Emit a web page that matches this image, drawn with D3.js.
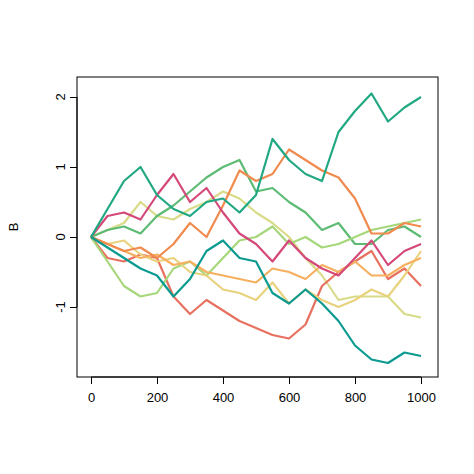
<!DOCTYPE html>
<html>
<head>
<meta charset="UTF-8">
<script src="https://cdnjs.cloudflare.com/ajax/libs/d3/7.8.5/d3.min.js"></script>
<style>
  body { margin: 0; background: #fff; }
  text { font-family: "Liberation Sans", Arial, sans-serif; }
</style>
</head>
<body>
<div id="chart"></div>
<script>
// time steps sampled every 50
const steps = d3.range(0, 1001, 50);
const xTicks = [0, 200, 400, 600, 800, 1000];
const yTicks = [-1, 0, 1, 2];

const seriesColors = ['#d8dc88', '#e8705e', '#5dbb74', '#a6d77a', '#e8d27e',
                      '#f6b060', '#f08a4e', '#d4487a', '#0a9a90', '#21a883'];

const s10 = [0,0.1,0.2,0.5,0.3,0.25,0.4,0.5,0.65,0.55,0.35,0.2,0.0,-0.3,-0.55,-0.9,-0.85,-0.85,-0.85,-1.1,-1.15];
const s9  = [0,-0.3,-0.35,-0.25,-0.3,-0.85,-1.1,-0.9,-1.05,-1.2,-1.3,-1.4,-1.45,-1.25,-0.7,-0.5,-0.35,-0.2,-0.6,-0.45,-0.7];
const s8  = [0,0.1,0.15,0.05,0.3,0.45,0.65,0.85,1.0,1.1,0.65,0.7,0.5,0.35,0.1,0.2,-0.1,-0.1,0.1,0.15,0.0];
const s7  = [0,-0.35,-0.7,-0.85,-0.8,-0.45,-0.35,-0.55,-0.3,-0.05,0.0,0.15,-0.1,0.0,-0.15,-0.1,0.0,0.1,0.15,0.2,0.25];
const s6  = [0,-0.1,-0.05,-0.25,-0.35,-0.3,-0.5,-0.55,-0.75,-0.8,-0.9,-0.65,-0.95,-0.75,-0.9,-1.0,-0.9,-0.75,-0.85,-0.55,-0.2];
const s5  = [0,-0.1,-0.2,-0.3,-0.25,-0.4,-0.35,-0.5,-0.55,-0.6,-0.65,-0.45,-0.5,-0.6,-0.4,-0.5,-0.35,-0.55,-0.55,-0.4,-0.3];
const s4  = [0,-0.1,-0.2,-0.15,-0.3,-0.1,0.2,0.0,0.45,0.95,0.8,0.9,1.25,1.1,0.95,0.85,0.55,0.05,0.05,0.2,0.15];
const s3  = [0,0.3,0.35,0.25,0.6,0.9,0.5,0.7,0.35,0.05,-0.1,-0.35,-0.05,-0.3,-0.45,-0.55,-0.3,-0.05,-0.4,-0.2,-0.1];
const s2  = [0,-0.15,-0.3,-0.45,-0.55,-0.85,-0.6,-0.2,-0.05,-0.3,-0.35,-0.8,-0.95,-0.75,-0.95,-1.2,-1.55,-1.75,-1.8,-1.65,-1.7];
const s1  = [0,0.4,0.8,1.0,0.6,0.4,0.3,0.5,0.55,0.35,0.6,1.4,1.1,0.9,0.8,1.5,1.8,2.05,1.65,1.85,2.0];

const allSeries = [s10, s9, s8, s7, s6, s5, s4, s3, s2, s1];

const width = 474, height = 474;
const box = {left: 77, right: 438, top: 77, bottom: 377};

const svg = d3.select('#chart').append('svg')
    .attr('width', width).attr('height', height);

const x = d3.scaleLinear().domain([0, 1000]).range([91, 421]);
const y = d3.scaleLinear().domain([0, 2]).range([237, 97]);

const line = d3.line()
    .x((d, i) => x(steps[i]))
    .y(d => y(d));

svg.selectAll('path.series')
    .data(allSeries)
    .enter()
    .append('path')
    .attr('class', 'series')
    .attr('d', line)
    .attr('fill', 'none')
    .attr('stroke', (d, i) => seriesColors[i])
    .attr('stroke-width', 2.2)
    .attr('stroke-linejoin', 'round');

svg.append('rect')
    .attr('x', box.left).attr('y', box.top)
    .attr('width', box.right - box.left).attr('height', box.bottom - box.top)
    .attr('fill', 'none').attr('stroke', '#000');

const xAxis = svg.append('g')
    .attr('transform', `translate(0,${box.bottom})`)
    .call(d3.axisBottom(x).tickValues(xTicks).tickSize(7).tickPadding(9).tickFormat(d3.format('d')));
xAxis.select('.domain').attr('d', `M${x(0)},0H${x(1000)}`);
xAxis.selectAll('text').attr('font-size', 13).attr('fill', '#000');

const yAxis = svg.append('g')
    .attr('transform', `translate(${box.left},0)`)
    .call(d3.axisLeft(y).tickValues(yTicks).tickSize(7).tickFormat(''));
yAxis.select('.domain').attr('d', `M0,${y(-1)}V${y(2)}`);

svg.selectAll('text.ylab')
    .data(yTicks)
    .enter()
    .append('text')
    .attr('class', 'ylab')
    .attr('transform', d => `translate(${box.left - 12},${y(d)}) rotate(-90)`)
    .attr('text-anchor', 'middle')
    .attr('font-size', 13)
    .text(d => d < 0 ? '-' + Math.abs(d) : d);

svg.append('text')
    .attr('transform', 'translate(18,227) rotate(-90)')
    .attr('text-anchor', 'middle')
    .attr('font-size', 13)
    .text('B');
</script>
</body>
</html>
